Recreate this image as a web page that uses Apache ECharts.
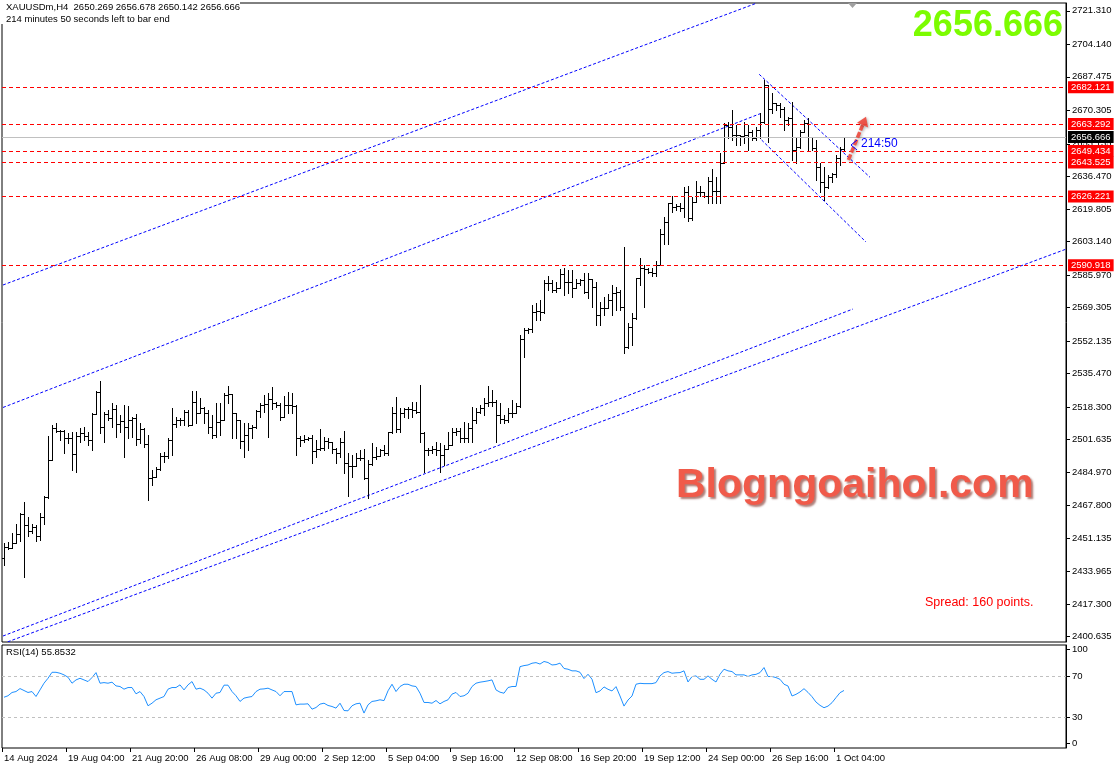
<!DOCTYPE html>
<html><head><meta charset="utf-8">
<script src="https://cdn.jsdelivr.net/npm/echarts@6/dist/echarts.min.js"></script>
<style>html,body{margin:0;padding:0;background:#fff}#c{width:1120px;height:772px}</style>
</head><body><div id="c"></div>
<script>
// ---- data (XAUUSDm H4) ----
const opens = [2441.00,2446.74,2446.21,2448.62,2453.23,2463.32,2457.68,2454.92,2456.97,2452.36,
2462.09,2472.04,2491.15,2507.39,2506.01,2506.01,2502.58,2502.58,2494.07,2503.44,
2505.14,2503.44,2501.39,2514.56,2526.14,2507.90,2514.56,2512.51,2517.12,2509.59,
2511.28,2508.21,2511.64,2512.51,2501.76,2506.88,2499.34,2481.76,2482.28,2486.69,
2493.20,2493.20,2501.39,2509.59,2511.64,2511.64,2515.59,2509.08,2521.02,2515.38,
2517.64,2515.08,2508.21,2503.96,2510.77,2511.64,2524.45,2524.96,2515.38,2511.64,
2501.04,2503.96,2507.39,2507.90,2516.41,2519.33,2519.84,2522.24,2520.51,2519.33,
2513.33,2519.33,2519.33,2518.82,2502.27,2501.39,2501.76,2502.27,2495.76,2496.63,
2497.14,2501.04,2500.52,2496.63,2494.89,2500.52,2489.45,2488.07,2488.07,2492.02,
2492.33,2481.76,2489.10,2492.84,2493.20,2496.27,2494.58,2505.65,2515.08,2506.88,
2515.08,2517.12,2517.12,2516.77,2515.89,2505.14,2496.27,2496.27,2496.63,2496.27,
2493.71,2496.63,2498.83,2505.65,2506.16,2502.27,2502.27,2507.39,2511.64,2515.89,
2517.64,2520.20,2521.02,2521.02,2514.20,2512.00,2511.64,2515.38,2515.38,2518.97,
2553.00,2557.76,2558.12,2567.14,2567.66,2567.14,2582.00,2582.00,2578.25,2579.13,
2586.45,2582.51,2582.51,2579.13,2582.00,2583.38,2577.38,2583.74,2579.94,2565.44,
2568.88,2568.88,2573.13,2576.56,2577.38,2569.70,2548.89,2559.14,2563.75,2584.25,
2589.37,2588.86,2587.63,2586.81,2591.06,2606.95,2613.25,2622.68,2620.94,2621.30,
2620.12,2628.32,2614.99,2623.50,2628.62,2628.62,2626.42,2634.11,2629.14,2629.14,
2643.18,2662.80,2661.93,2657.68,2657.68,2657.16,2657.68,2659.37,2655.99,2660.24,
2664.49,2683.30,2670.84,2673.92,2673.05,2670.84,2665.36,2666.23,2649.99,2651.42,
2659.37,2663.67,2656.86,2650.91,2641.18,2633.75,2631.18,2636.05,2637.59,2645.79,
2650.269];
const highs = [2448.46,2448.98,2453.59,2458.35,2463.84,2469.78,2462.09,2458.35,2457.84,2463.84,
2472.87,2503.44,2509.08,2509.95,2506.52,2506.52,2504.83,2505.65,2505.65,2507.39,
2508.21,2505.65,2515.38,2526.66,2531.63,2515.89,2516.77,2520.20,2519.33,2514.20,
2519.33,2518.82,2513.33,2514.56,2509.95,2507.39,2503.96,2486.02,2487.71,2494.58,
2495.40,2502.27,2517.64,2513.33,2512.51,2516.77,2516.77,2526.66,2526.66,2522.76,
2518.46,2516.77,2514.20,2520.20,2520.20,2525.32,2529.06,2524.96,2515.38,2510.77,
2510.26,2509.95,2509.08,2516.77,2520.51,2524.45,2525.57,2528.70,2521.02,2520.20,
2523.94,2526.14,2525.32,2519.50,2503.44,2503.96,2503.09,2503.96,2501.39,2506.88,
2503.09,2502.27,2500.52,2497.14,2502.27,2506.01,2494.58,2493.71,2494.58,2496.27,
2496.63,2491.15,2499.99,2497.65,2496.63,2498.83,2505.65,2518.46,2523.59,2517.64,
2517.64,2518.46,2521.02,2521.02,2529.58,2505.65,2497.14,2498.32,2500.52,2499.99,
2498.83,2505.65,2507.39,2507.39,2507.39,2510.77,2509.95,2518.46,2517.64,2519.33,
2522.76,2529.06,2527.01,2521.89,2520.20,2514.20,2517.64,2521.89,2520.20,2555.20,
2558.63,2558.63,2570.57,2571.44,2573.13,2583.38,2585.43,2583.38,2582.51,2588.86,
2589.37,2588.50,2588.50,2583.74,2583.74,2586.81,2586.81,2582.51,2582.51,2572.26,
2574.52,2576.20,2580.82,2579.94,2578.25,2600.44,2561.19,2566.32,2584.25,2594.50,
2591.06,2589.37,2589.37,2593.27,2609.36,2615.51,2622.68,2626.42,2622.32,2622.68,
2630.88,2631.54,2626.06,2634.26,2631.54,2628.62,2636.00,2640.10,2636.16,2648.30,
2663.67,2664.49,2670.49,2662.80,2657.68,2664.49,2662.80,2660.24,2661.93,2668.80,
2685.86,2683.30,2679.04,2673.92,2673.92,2672.18,2667.05,2674.74,2655.99,2660.24,
2665.36,2666.23,2656.86,2655.11,2643.18,2641.43,2637.18,2638.05,2647.43,2651.68,
2656.678];
const lows = [2437.34,2445.54,2447.59,2449.80,2449.80,2431.35,2452.36,2453.59,2449.80,2450.15,
2458.35,2471.67,2491.15,2505.65,2501.39,2494.58,2499.70,2486.02,2485.15,2500.52,
2501.39,2498.83,2496.27,2515.08,2504.83,2500.52,2511.64,2508.21,2503.09,2505.65,
2492.84,2502.27,2503.09,2498.83,2499.70,2497.96,2470.65,2478.34,2482.59,2486.02,
2490.28,2492.02,2493.71,2508.21,2509.08,2509.08,2508.57,2509.08,2509.95,2515.08,
2509.95,2505.13,2502.27,2503.09,2503.96,2511.64,2520.20,2502.27,2502.27,2497.14,
2492.84,2496.27,2502.27,2507.39,2513.33,2515.89,2503.09,2517.12,2518.46,2511.64,
2515.89,2515.08,2515.08,2493.71,2498.32,2500.52,2501.39,2489.45,2492.84,2496.27,
2496.27,2497.14,2494.58,2489.45,2492.84,2484.34,2472.70,2482.59,2491.15,2491.15,
2481.26,2471.52,2488.58,2491.50,2493.20,2493.71,2493.71,2504.83,2505.65,2505.65,
2513.33,2512.51,2513.33,2515.08,2500.52,2485.15,2493.71,2494.58,2493.71,2485.15,
2488.58,2497.96,2498.83,2503.96,2500.52,2500.52,2500.52,2500.52,2509.95,2515.08,
2514.20,2518.82,2518.82,2500.52,2509.95,2509.95,2510.77,2513.33,2518.46,2518.46,
2544.08,2556.37,2556.89,2562.88,2562.88,2566.32,2578.25,2577.38,2577.38,2579.94,
2575.69,2576.56,2574.82,2579.13,2580.82,2576.56,2574.00,2569.70,2560.32,2560.32,
2565.44,2571.44,2565.44,2568.01,2568.01,2546.13,2548.38,2550.07,2563.50,2580.82,
2569.70,2586.81,2585.43,2585.43,2591.06,2601.82,2601.82,2618.38,2619.25,2618.89,
2615.81,2613.76,2614.12,2623.50,2626.42,2625.76,2622.83,2622.68,2622.99,2622.99,
2643.18,2655.99,2655.11,2652.55,2652.55,2653.42,2649.99,2655.11,2655.11,2655.99,
2663.67,2654.24,2668.80,2670.49,2667.05,2660.24,2662.80,2644.87,2643.18,2650.91,
2660.24,2649.99,2649.99,2634.62,2628.62,2624.37,2630.41,2633.75,2636.36,2642.30,
2650.142];
const closes = [2446.74,2446.21,2448.62,2453.23,2463.32,2457.68,2454.92,2456.97,2452.36,2462.09,
2472.04,2491.15,2507.39,2506.01,2506.01,2502.58,2502.58,2494.07,2503.44,2505.14,
2503.44,2501.39,2514.56,2526.14,2507.90,2514.56,2512.51,2517.12,2509.59,2511.28,
2508.21,2511.64,2512.51,2501.76,2506.88,2499.34,2481.76,2482.28,2486.69,2493.20,
2493.20,2501.39,2509.59,2511.64,2511.64,2515.59,2509.08,2521.02,2515.38,2517.64,
2515.08,2508.21,2503.96,2510.77,2511.64,2524.45,2524.96,2515.38,2511.64,2501.04,
2503.96,2507.39,2507.90,2516.41,2519.33,2519.84,2522.24,2520.51,2519.33,2513.33,
2519.33,2519.33,2518.82,2502.27,2501.39,2501.76,2502.27,2495.76,2496.63,2497.14,
2501.04,2500.52,2496.63,2494.89,2500.52,2489.45,2488.07,2488.07,2492.02,2492.33,
2481.76,2489.10,2492.84,2493.20,2496.27,2494.58,2505.65,2515.08,2506.88,2515.08,
2517.12,2517.12,2516.77,2515.89,2505.14,2496.27,2496.27,2496.63,2496.27,2493.71,
2496.63,2498.83,2505.65,2506.16,2502.27,2502.27,2507.39,2511.64,2515.89,2517.64,
2520.20,2521.02,2521.02,2514.20,2512.00,2511.64,2515.38,2515.38,2518.97,2553.00,
2557.76,2558.12,2567.14,2567.66,2567.14,2582.00,2582.00,2578.25,2579.13,2586.45,
2582.51,2582.51,2579.13,2582.00,2583.38,2577.38,2583.74,2579.94,2565.44,2568.88,
2568.88,2573.13,2576.56,2577.38,2569.70,2548.89,2559.14,2563.75,2584.25,2589.37,
2588.86,2587.63,2586.81,2591.06,2606.95,2613.25,2622.68,2620.94,2621.30,2620.12,
2628.32,2614.99,2623.50,2628.62,2628.62,2626.42,2634.11,2629.14,2629.14,2643.18,
2662.80,2661.93,2657.68,2657.68,2657.16,2657.68,2659.37,2655.99,2660.24,2664.49,
2683.30,2670.84,2673.92,2673.05,2670.84,2665.36,2666.23,2649.99,2651.42,2659.37,
2663.67,2656.86,2650.91,2641.18,2633.75,2631.18,2636.05,2637.59,2645.79,2650.27,
2656.666];
const rsi = [49.3,50.7,53.9,54.8,57.7,55.8,53.9,54.8,50.0,56.4,
62.9,67.7,73.5,73.5,72.6,71.0,68.7,62.9,66.1,67.7,
66.1,64.5,68.4,73.2,62.9,63.5,62.9,63.9,60.3,59.7,
57.1,58.7,58.7,52.6,54.8,50.0,41.0,43.5,46.8,48.4,
50.0,57.1,58.7,58.7,61.3,56.4,61.3,64.5,57.1,58.1,
56.4,53.2,48.4,53.2,53.9,61.0,61.0,54.8,50.7,45.2,
48.4,49.3,50.0,54.8,57.1,57.4,58.1,56.4,54.8,50.7,
54.8,54.8,54.8,41.9,42.6,42.6,42.9,37.7,39.3,42.6,
43.5,41.3,40.3,38.7,43.5,36.4,36.1,41.0,42.9,43.5,
33.9,41.9,45.2,45.8,46.8,46.0,55.5,61.9,54.8,59.7,
61.9,61.9,60.3,59.7,53.2,44.2,44.2,43.5,46.1,42.9,
45.2,46.8,52.3,53.9,50.0,50.7,53.2,59.7,62.9,63.9,
64.5,65.2,66.1,56.4,54.2,53.2,58.7,59.7,59.7,79.0,
80.0,80.6,82.3,82.9,81.5,84.0,83.0,80.6,81.0,82.4,
77.2,76.5,74.9,74.9,73.5,67.4,71.6,66.8,53.7,55.4,
59.3,57.0,55.4,59.6,50.5,40.7,46.6,50.5,61.9,62.8,
62.5,62.5,62.5,63.5,70.0,73.2,74.2,72.6,73.0,73.2,
74.9,64.1,69.3,70.0,66.7,66.7,70.0,66.7,64.1,71.6,
76.5,74.9,74.2,71.0,71.0,71.0,69.4,71.0,71.5,73.2,
78.1,69.4,69.4,68.4,66.7,61.9,60.2,50.5,52.1,54.4,
57.6,54.0,49.8,44.6,41.4,39.1,40.7,44.0,48.9,53.7,
55.8532];
const priceTicks = [2400.635,2417.300,2433.965,2451.135,2467.800,2484.970,2501.635,2518.300,2535.470,2552.135,
2569.305,2585.970,2603.140,2619.805,2636.470,2653.135,2670.305,2687.475,2704.140,2721.310];
const timeLabels = ['14 Aug 2024','19 Aug 04:00','21 Aug 20:00','26 Aug 08:00','29 Aug 00:00','2 Sep 12:00','5 Sep 04:00',
'9 Sep 16:00','12 Sep 08:00','16 Sep 20:00','19 Sep 12:00','24 Sep 00:00','26 Sep 16:00','1 Oct 04:00'];
const timeLabelIdx = [0,16,32,48,64,80,96,112,128,144,160,176,192,208];
const levelLines = [2682.121,2663.292,2649.434,2643.525,2626.221,2590.918];
const levelText = ['2682.121','2663.292','2649.434','2643.525','2626.221','2590.918'];
const bidPrice = 2656.666;
const bidText = '2656.666';
const rsiLevels = [30,70];
const rsiTickVals = [4.5,30,70,95.5];
const rsiTickText = ['0','30','70','100'];
// trend lines drawn on the chart: start (bar index, price) -> end (bar index, price)
const trendX1 = [-0.25,-0.25,-0.25,-0.25,188.8,189.4];
const trendY1 = [2580.82,2518.06,2400.96,2397.07,2688.78,2655.11];
const trendX2 = [188.25,189.5,212.25,265.75,216.5,215.5];
const trendY2 = [2725.31,2668.95,2568.52,2599.37,2636.00,2602.85];
const arrowFrom = [211.1,2644.9];
const arrowTo = [215.5,2667.0];

// ---- chart ----
const FONT = '"Liberation Sans", Arial, sans-serif';
const chart = echarts.init(document.getElementById('c'), null, {renderer:'canvas'});
const ohlc = opens.map((o,i)=>[i,o,highs[i],lows[i],closes[i]]);
const trendRows = trendX1.map((x,k)=>[x,trendY1[k],trendX2[k],trendY2[k]]);
const xMin = -0.5, xMax = 265.5;

function renderBar(params, api){
  const i = api.value(0);
  const o = api.coord([i, api.value(1)]), h = api.coord([i, api.value(2)]),
        l = api.coord([i, api.value(3)]), c = api.coord([i, api.value(4)]);
  const px = Math.round(h[0]);
  const x = px + 0.5;
  const yTop = Math.round(Math.min(h[1], o[1], c[1]));
  const yBot = Math.round(Math.max(l[1], o[1], c[1]));
  const yo = Math.round(o[1]) + 0.5, yc = Math.round(c[1]) + 0.5;
  const st = {stroke:'#000', lineWidth:1};
  return {type:'group', children:[
    {type:'line', shape:{x1:x, y1:yTop, x2:x, y2:yBot+1}, style:st},
    {type:'line', shape:{x1:px-2, y1:yo, x2:px, y2:yo}, style:st},
    {type:'line', shape:{x1:px+1, y1:yc, x2:px+3, y2:yc}, style:st}
  ]};
}
function renderTrend(params, api){
  const a = api.coord([api.value(0), api.value(1)]);
  const b = api.coord([api.value(2), api.value(3)]);
  return {type:'line', shape:{x1:a[0],y1:a[1],x2:b[0],y2:b[1]},
    style:{stroke:'#0000ff', lineWidth:1, lineDash:[3,2]}};
}
function renderArrow(params, api){
  const a = api.coord([api.value(0), api.value(1)]);
  const b = api.coord([api.value(2), api.value(3)]);
  const dx = b[0]-a[0], dy = b[1]-a[1], len = Math.sqrt(dx*dx+dy*dy);
  const ux = dx/len, uy = dy/len, px = -uy, py = ux;
  const bx = b[0]-ux*9, by = b[1]-uy*9;
  const col = 'rgba(238,72,60,0.9)';
  const sh = {shadowBlur:3, shadowColor:'rgba(0,0,0,0.35)', shadowOffsetX:1, shadowOffsetY:1};
  return {type:'group', children:[
    {type:'line', shape:{x1:a[0],y1:a[1],x2:bx,y2:by}, style:Object.assign({stroke:col, lineWidth:3.5, lineDash:[6,2]}, sh)},
    {type:'polygon', shape:{points:[[b[0],b[1]],[bx+px*6,by+py*6],[bx-px*6,by-py*6]]}, style:Object.assign({fill:col}, sh)}
  ]};
}

const boxLabel = (bg, txt) => ({show:true, position:'end', distance:2, formatter:()=>txt, color:'#fff',
    backgroundColor:bg, padding:[1,3,0,3], fontSize:9.5, lineHeight:11, fontFamily:FONT});
const levelMark = levelLines.map((v,k)=>({yAxis:v,
  lineStyle:{color:'#ff0000', type:[4,3], width:1}, label:boxLabel('#ff0000', levelText[k])}));
levelMark.push({yAxis:bidPrice, lineStyle:{color:'#c0c0c0', type:'solid', width:1}, label:boxLabel('#000000', bidText)});

const option = {
  animation:false,
  backgroundColor:'#ffffff',
  grid:[
    {left:2, top:3, width:1064, height:639, show:true, borderColor:'#000', borderWidth:1},
    {left:2, top:645, width:1064, height:103, show:true, borderColor:'#000', borderWidth:1}
  ],
  xAxis:[
    {type:'value', gridIndex:0, min:xMin, max:xMax, show:false},
    {type:'value', gridIndex:1, min:xMin, max:xMax,
      axisLine:{show:false, onZero:false},
      axisTick:{show:true, length:4, lineStyle:{color:'#000'}, customValues: timeLabelIdx.map(v=>v-0.5)},
      axisLabel:{show:true, customValues: timeLabelIdx, showMinLabel:true, showMaxLabel:true,
        formatter:v=>{const k = timeLabelIdx.indexOf(Math.round(v)); return k>=0 ? timeLabels[k] : '';},
        align:'left', margin:5, fontSize:9.5, color:'#000', fontFamily:FONT},
      splitLine:{show:false}}
  ],
  yAxis:[
    {type:'value', gridIndex:0, position:'right', min:2397.89, max:2725.31,
      axisLine:{show:true, onZero:false, lineStyle:{color:'#000'}},
      axisTick:{show:true, length:4, lineStyle:{color:'#000'}, customValues:priceTicks},
      axisLabel:{show:true, customValues:priceTicks, formatter:v=>v.toFixed(3), margin:6,
        fontSize:9.5, color:'#000', fontFamily:FONT},
      splitLine:{show:false}},
    {type:'value', gridIndex:1, position:'right', min:0, max:100,
      axisLine:{show:true, onZero:false, lineStyle:{color:'#000'}},
      axisTick:{show:true, length:4, lineStyle:{color:'#000'}, customValues:rsiTickVals},
      axisLabel:{show:true, customValues:rsiTickVals,
        formatter:v=>{const k = rsiTickVals.indexOf(v); return k>=0 ? rsiTickText[k] : '';},
        margin:6, fontSize:9.5, color:'#000', fontFamily:FONT},
      splitLine:{show:false}}
  ],
  series:[
    {type:'custom', name:'XAUUSDm', xAxisIndex:0, yAxisIndex:0, data:ohlc,
      encode:{x:0, y:[1,2,3,4]}, renderItem:renderBar, clip:true, silent:true, z:3,
      markLine:{silent:true, symbol:['none','none'], precision:3, animation:false, data:levelMark, z:5}},
    {type:'custom', name:'trend', xAxisIndex:0, yAxisIndex:0, data:trendRows,
      encode:{x:[0,2], y:[1,3]}, renderItem:renderTrend, clip:true, silent:true, z:2},
    {type:'custom', name:'arrow', xAxisIndex:0, yAxisIndex:0, data:[[arrowFrom[0],arrowFrom[1],arrowTo[0],arrowTo[1]]],
      encode:{x:[0,2], y:[1,3]}, renderItem:renderArrow, clip:false, silent:true, z:6},
    {type:'line', name:'RSI(14)', xAxisIndex:1, yAxisIndex:1, data:rsi.map((v,i)=>[i,v]),
      showSymbol:false, symbol:'none', lineStyle:{color:'#1e90ff', width:1}, silent:true, z:3,
      markLine:{silent:true, symbol:['none','none'], label:{show:false},
        lineStyle:{color:'#c0c0c0', type:[3,3], width:1}, data:rsiLevels.map(v=>({yAxis:v}))}}
  ],
  graphic:[
    {type:'rect', z:99, shape:{x:0, y:0, width:240, height:24}, style:{fill:'#ffffff'}},
    {type:'text', x:6, y:7, z:100, style:{text:'XAUUSDm,H4  2650.269 2656.678 2650.142 2656.666', font:'9.5px '+FONT, fill:'#000', verticalAlign:'middle'}},
    {type:'text', x:6, y:19.5, z:100, style:{text:'214 minutes 50 seconds left to bar end', font:'9.5px '+FONT, fill:'#000', verticalAlign:'middle'}},
    {type:'text', x:1063, y:26, z:100, style:{text:'2656.666', font:'bold 36px '+FONT, fill:'#7cfc00', align:'right', verticalAlign:'middle'}},
    {type:'polygon', z:100, shape:{points:[[848,3],[857,3],[852.5,8]]}, style:{fill:'#a0a0a0'}},
    {type:'text', x:676, y:486, z:100, style:{text:'Blogngoaihol.com', font:'bold 41px '+FONT, fill:'#f05a4a',
      textShadowColor:'rgba(110,20,10,0.55)', textShadowBlur:2, textShadowOffsetX:2, textShadowOffsetY:2, verticalAlign:'middle'}},
    {type:'text', x:925, y:603, z:100, style:{text:'Spread: 160 points.', font:'12.5px '+FONT, fill:'#ff0000', verticalAlign:'middle'}},
    {type:'polyline', z:100, shape:{points:[[857,140],[851,145],[857,150]]}, style:{stroke:'#0000ff', lineWidth:1, fill:null}},
    {type:'text', x:861, y:144, z:100, style:{text:'214:50', font:'12px '+FONT, fill:'#0000ff', verticalAlign:'middle'}},
    {type:'text', x:6, y:652, z:100, style:{text:'RSI(14) 55.8532', font:'9.5px '+FONT, fill:'#000', verticalAlign:'middle'}}
  ]
};
chart.setOption(option);
</script>
</body></html>
